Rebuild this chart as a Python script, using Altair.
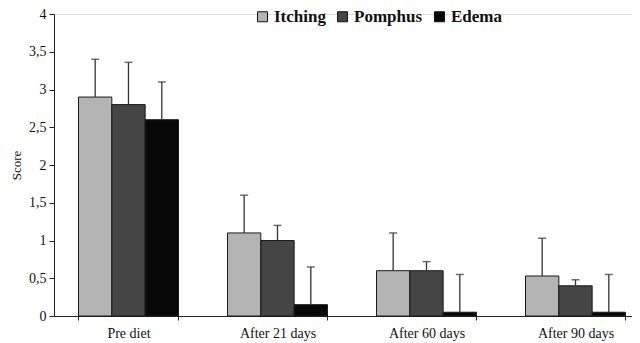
import altair as alt
import pandas as pd

categories = ["Pre diet", "After 21 days", "After 60 days", "After 90 days"]
series = ["Itching", "Pomphus", "Edema"]
itching = [2.9, 1.1, 0.6, 0.53]
itching_top = [3.4, 1.6, 1.1, 1.03]
pomphus = [2.8, 1.0, 0.6, 0.4]
pomphus_top = [3.36, 1.2, 0.72, 0.48]
edema = [2.6, 0.15, 0.05, 0.05]
edema_top = [3.1, 0.65, 0.55, 0.55]
colors = ["#b4b4b4", "#454545", "#080808"]
y_ticks = [0, 0.5, 1, 1.5, 2, 2.5, 3, 3.5, 4]

rows = []
for s, vals, tops in zip(series, [itching, pomphus, edema], [itching_top, pomphus_top, edema_top]):
    for c, v, t in zip(categories, vals, tops):
        rows.append({"period": c, "symptom": s, "score": v, "top": t})
df = pd.DataFrame(rows)

FONT = "Liberation Serif"

x_enc = alt.X(
    "period:N",
    sort=categories,
    scale=alt.Scale(domain=categories, paddingInner=0.329, paddingOuter=0.104, align=0.79),
    axis=alt.Axis(
        title=None, labelAngle=0, tickBand="extent", tickSize=4, labelPadding=6,
        labelFont=FONT, labelFontSize=14, labelColor="#111", domainColor="#222",
        tickColor="#222", grid=False,
    ),
)
xo_enc = alt.XOffset("symptom:N", sort=series, scale=alt.Scale(domain=series, paddingInner=0, paddingOuter=0))

y_axis = alt.Axis(
    title="Score", values=y_ticks, tickCount=9,
    labelExpr="replace(toString(datum.value), '.', ',')",
    tickSize=5, labelPadding=3, labelFont=FONT, labelFontSize=14, labelColor="#111",
    titleFont=FONT, titleFontSize=13, titleFontWeight="normal", titleColor="#111",
    titlePadding=5, domainColor="#222", tickColor="#222", grid=False, labelOverlap=False,
)
y_scale = alt.Scale(domain=[0, 4], nice=False)

base = alt.Chart(df)

bars = base.mark_bar(stroke="#1a1a1a", strokeWidth=1).encode(
    x=x_enc,
    xOffset=xo_enc,
    y=alt.Y("score:Q", scale=y_scale, axis=y_axis),
    color=alt.Color(
        "symptom:N",
        sort=series,
        scale=alt.Scale(domain=series, range=colors),
        legend=alt.Legend(
            title=None, orient="none", direction="horizontal", legendX=200, legendY=-6,
            labelFont=FONT, labelFontSize=17, labelFontWeight="bold", labelColor="#111",
            symbolType="square", symbolSize=100, symbolStrokeColor="#111", symbolStrokeWidth=1,
            labelOffset=3, columnPadding=8,
        ),
    ),
)

err = base.mark_rule(color="#333", strokeWidth=1.3).encode(
    x=alt.X("period:N", sort=categories),
    xOffset=xo_enc,
    y=alt.Y("score:Q", scale=y_scale, axis=y_axis),
    y2="top:Q",
)

caps = base.mark_tick(color="#333", thickness=1.5, size=8, orient="horizontal").encode(
    x=alt.X("period:N", sort=categories),
    xOffset=xo_enc,
    y=alt.Y("top:Q", scale=y_scale, axis=y_axis),
)

chart = alt.layer(bars, err, caps).properties(
    width=578, height=302,
    autosize=alt.AutoSizeParams(type="none"),
    padding={"left": 46, "top": 6, "right": 0, "bottom": 27},
).configure_view(stroke=None).configure(background="white")

chart.save("out.html", embed_options={"renderer": "svg", "actions": False})
